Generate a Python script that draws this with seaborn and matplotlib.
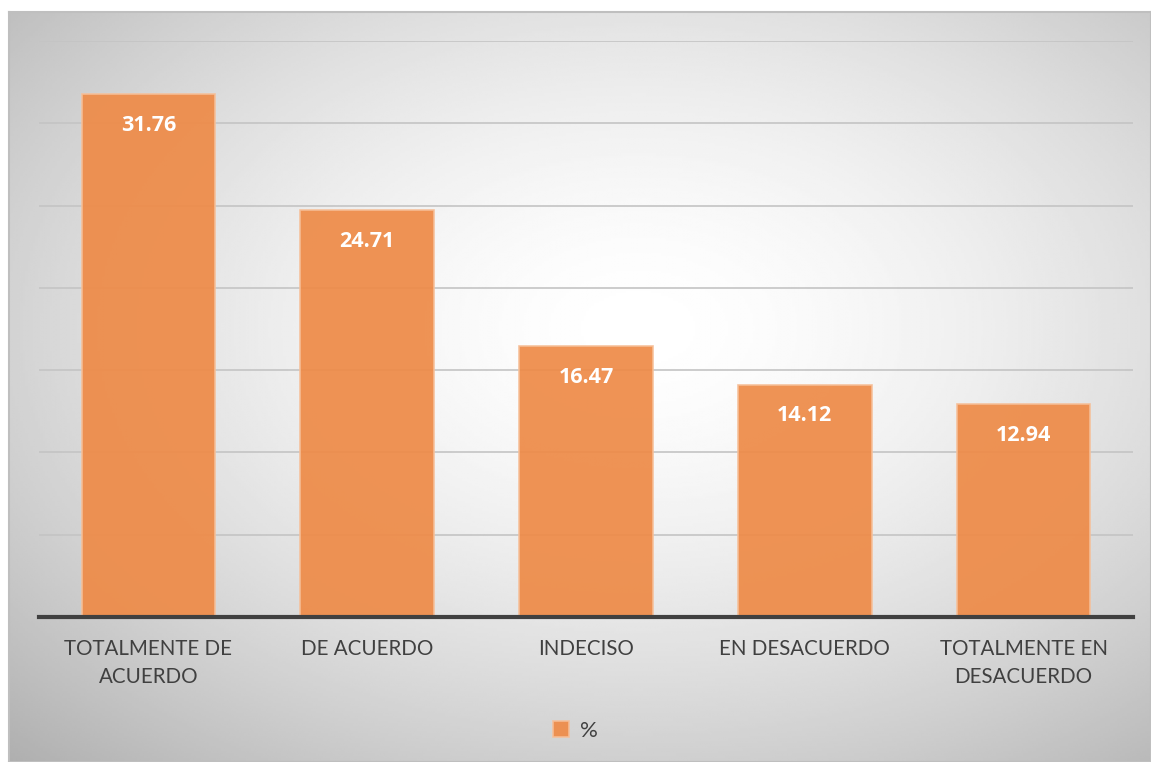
import numpy as np
import pandas as pd
import matplotlib.pyplot as plt
import seaborn as sns

# données du graphique
categorias = ["TOTALMENTE DE\nACUERDO", "DE ACUERDO", "INDECISO",
              "EN DESACUERDO", "TOTALMENTE EN\nDESACUERDO"]
porcentajes = [31.76, 24.71, 16.47, 14.12, 12.94]
serie = "%"

df = pd.DataFrame({"categoria": categorias, "valor": porcentajes})

sns.set_style("white")
plt.rcParams['font.family'] = ['Lato', 'DejaVu Sans']

fig = plt.figure(figsize=(11.51, 7.62), dpi=100)

# fond avec dégradé radial
bg = fig.add_axes([9 / 1151, 0, 1 - 9 / 1151, 1 - 12 / 762], zorder=-2)
h, w = 300, 460
yy, xx = np.mgrid[0:h, 0:w]
cx, cy = 0.55 * w, 0.42 * h
r = np.sqrt(((xx - cx) / w) ** 2 + ((yy - cy) / h) ** 2)
grad = np.clip(1.0 - 0.45 * r ** 1.6, 0, 1)
bg.imshow(grad, cmap="gray", vmin=0, vmax=1, aspect="auto",
          extent=[0, 1, 0, 1], interpolation="bilinear")
bg.set_xticks([])
bg.set_yticks([])
for s in bg.spines.values():
    s.set_color("#bfbfbf")
    s.set_linewidth(1.5)

ax = fig.add_axes([39 / 1151, 1 - 617 / 762, (1133 - 39) / 1151, (617 - 41) / 762])
ax.patch.set_alpha(0)

sns.barplot(data=df, x="categoria", y="valor", color="#ee8b48", width=0.61,
            saturation=1, edgecolor="#f6bf98", linewidth=1.2, alpha=0.93,
            ax=ax, label=serie, zorder=3)

ax.set_ylim(0, 35)
ax.set_xlim(-0.5, 4.5)
ax.set_yticks(np.arange(5, 36, 5))
ax.set_yticklabels([])
ax.tick_params(axis="y", length=0)
ax.tick_params(axis="x", length=0, pad=16, labelsize=14.8, labelcolor="#404040")
for lab in ax.get_xticklabels():
    lab.set_linespacing(1.5)
ax.yaxis.grid(True, color="#c4c4c4", linewidth=1.2, zorder=0)
ax.set_axisbelow(True)
ax.set_xlabel("")
ax.set_ylabel("")
for side in ["top", "left", "right"]:
    ax.spines[side].set_visible(False)
ax.spines["bottom"].set_color("#404040")
ax.spines["bottom"].set_linewidth(3)
ax.spines["bottom"].set_zorder(5)

# étiquettes des valeurs
for i, v in enumerate(porcentajes):
    ax.text(i, v - 1.9, f"{v:.2f}", ha="center", va="center", color="white",
            fontsize=15.5, fontweight="bold", family=["Open Sans", "DejaVu Sans"],
            zorder=6)

leg = ax.legend(loc="center", bbox_to_anchor=(0.5, (762 - 731) / 762),
                bbox_transform=fig.transFigure, frameon=False, fontsize=16,
                handlelength=0.7, handleheight=0.7, handletextpad=0.5)
for t in leg.get_texts():
    t.set_color("#404040")

fig.savefig("out.png", dpi=100)
